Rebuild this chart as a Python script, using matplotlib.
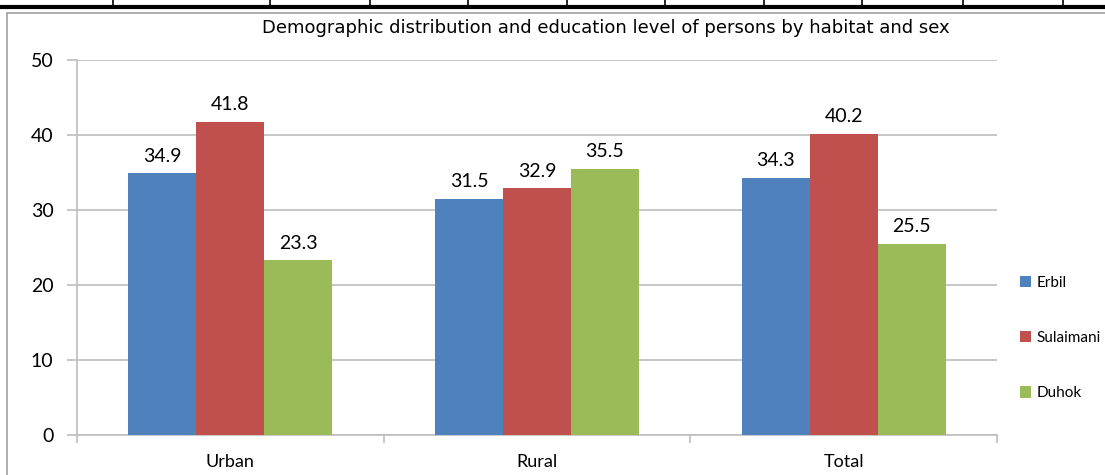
import matplotlib
matplotlib.use('Agg')
import matplotlib.pyplot as plt
from matplotlib.lines import Line2D
from matplotlib.patches import Rectangle
import numpy as np

# data ------------------------------------------------------------------
categories = ['Urban', 'Rural', 'Total']
series = ['Erbil', 'Sulaimani', 'Duhok']
erbil = [34.9, 31.5, 34.3]
sulaimani = [41.8, 32.9, 40.2]
duhok = [23.3, 35.5, 25.5]
colors = ['#4F81BD', '#C0504D', '#9BBB59']
title = 'Demographic distribution and education level of persons by habitat and sex'

W, H = 1105, 475
fig = plt.figure(figsize=(W / 100, H / 100), dpi=100)

# table borders above the chart (page context)
fig.add_artist(Line2D([0, 1], [1 - 7 / H, 1 - 7 / H], color='black', lw=3))
for xv in [113, 270, 370, 468, 567, 665, 764, 862, 963, 1063]:
    fig.add_artist(Line2D([xv / W, xv / W], [1 - 6 / H, 1], color='black', lw=1.2))
# chart area frame
fig.add_artist(Rectangle((7 / W, -0.05), 1.2, 1 - 13 / H + 0.05,
                         transform=fig.transFigure, fill=False,
                         edgecolor='#A0A0A0', lw=1.2))

ax = fig.add_axes([77 / W, 1 - 435 / H, (997 - 77) / W, (435 - 60) / H])

x = np.arange(len(categories))
w = 68 / (920 / 3)
for i, (vals, name) in enumerate(zip([erbil, sulaimani, duhok], series)):
    bars = ax.bar(x + (i - 1) * w, vals, width=w, color=colors[i], label=name, zorder=3)
    for b, v in zip(bars, vals):
        ax.annotate(f'{v:.1f}', (b.get_x() + b.get_width() / 2, v),
                    xytext=(0, 6), textcoords='offset points',
                    ha='center', va='bottom', fontsize=14, family='Lato')

ax.set_xlim(-0.5, 2.5)
ax.set_ylim(0, 50)
ax.set_yticks(range(0, 51, 10))
ax.grid(axis='y', color='#BEBEBE', lw=1.2, zorder=0)
ax.set_xticks(x)
ax.set_xticklabels(categories, fontsize=13, family='Lato')
ax.set_xticks([-0.5, 0.5, 1.5, 2.5], minor=True)
ax.tick_params(axis='x', which='major', length=0, pad=14)
ax.tick_params(axis='x', which='minor', length=6, color='#BEBEBE', width=1.2)
ax.tick_params(axis='y', length=7, color='#BEBEBE', width=1.2, pad=10, labelsize=14)
for lab in ax.get_yticklabels():
    lab.set_family('Lato')
for s in ['top', 'right']:
    ax.spines[s].set_visible(False)
for s in ['left', 'bottom']:
    ax.spines[s].set_color('#BEBEBE')
    ax.spines[s].set_linewidth(1.2)

fig.text(606 / W, 1 - 28 / H, title, ha='center', va='center',
         fontsize=13, family='DejaVu Sans')

fig.legend(loc='center left', bbox_to_anchor=(1006 / W, 1 - 338 / H),
           frameon=False, handlelength=0.75, handleheight=0.75,
           handletextpad=0.35, labelspacing=2.7, prop={'family': 'Lato', 'size': 11})

fig.savefig('out.png', dpi=100)
